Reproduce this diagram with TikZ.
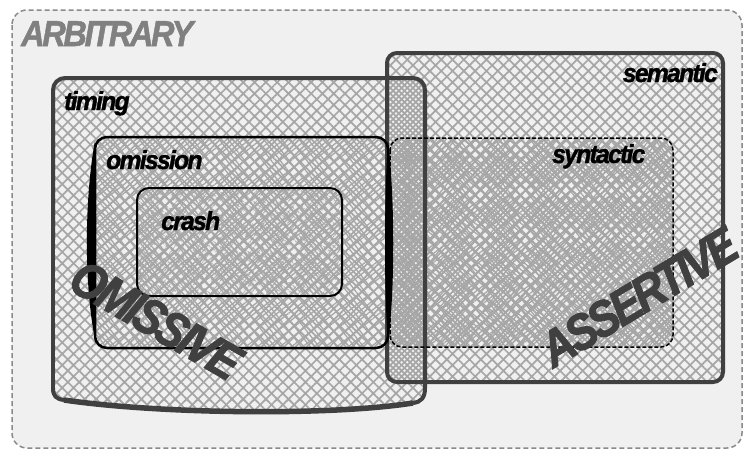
\documentclass[tikz,border=0pt]{standalone}
\usepackage{fontspec}
\setmainfont{Liberation Sans}
\newfontfamily\lblfont{Liberation Sans}[LetterSpace=-7, FakeBold=1.5]
\newfontfamily\bigfont{Liberation Sans}[LetterSpace=-8, FakeBold=2]
\usetikzlibrary{patterns.meta}
\definecolor{bgc}{HTML}{F0F0F0}
\definecolor{patc}{HTML}{A6A6A6}
\definecolor{edgec}{HTML}{404040}
\definecolor{dashc}{HTML}{8A8A8A}
\definecolor{arbc}{HTML}{808080}
\tikzset{
  hatchA/.style={pattern={Hatch[angle=45,distance=8pt,line width=1.7pt]},pattern color=patc},
  hatchS/.style={pattern={Hatch[angle=45,distance=8pt,line width=1.7pt,xshift=5.66pt]},pattern color=patc},
  hatchB/.style={pattern={Hatch[angle=38,distance=7pt,line width=1.3pt]},pattern color=patc},
  hatchC/.style={pattern={Hatch[angle=53,distance=6.5pt,line width=1.2pt]},pattern color=patc},
  hatchD/.style={pattern={Hatch[angle=51,distance=7.2pt,line width=1.3pt]},pattern color=patc},
  setlabel/.style={font=\lblfont\bfseries\itshape\fontsize{26}{26}\selectfont, inner sep=0pt, text=black},
  bigword/.style={font=\bigfont\bfseries\itshape\fontsize{50}{50}\selectfont, inner sep=0pt, text=edgec},
  thickset/.style={draw=edgec, line width=4pt},
  innerset/.style={draw=black, line width=2.5pt, rounded corners=12pt},
  dashset/.style={draw=black, line width=1.5pt, dash pattern=on 4pt off 2pt, rounded corners=12pt},
}
\newcommand{\sq}[1]{\scalebox{0.95}[1]{#1}}
\newcommand{\sqb}[1]{\scalebox{0.88}[1]{#1}}
\begin{document}
\begin{tikzpicture}[x=1pt,y=-1pt]
\useasboundingbox (0,0) rectangle (745,450);
% outer arbitrary
\draw[dashc, line width=1.5pt, dash pattern=on 5pt off 3pt, fill=bgc, rounded corners=15pt] (12,10) rectangle (742,448);
% pattern fills
\path[hatchA, rounded corners=12pt] (53,78) rectangle (425,402);
\path[hatchA] (60,398) .. controls (150,414) and (330,416) .. (418,400) -- cycle;
\path[hatchS, rounded corners=10pt] (387,53) rectangle (723,382);
\path[hatchB, rounded corners=12pt] (92,137) rectangle (390,348);
\path[hatchC, rounded corners=12pt] (137,188) rectangle (342,296);
\path[hatchB, rounded corners=12pt] (390,138) rectangle (673,347);
\path[hatchD, rounded corners=12pt] (390,138) rectangle (673,347);
% borders
\draw[thickset, rounded corners=12pt] (53,240) -- (53,78) -- (425,78) -- (425,388);
\draw[thickset] (425,388) .. controls (425,398) and (421,402) .. (413,403);
\draw[thickset] (53,388) .. controls (53,396) and (56,399) .. (64,400);
\draw[edgec, line width=5.5pt] (64,400) .. controls (160,414) and (330,416) .. (413,403);
\draw[thickset] (53,240) -- (53,388);
\draw[thickset, rounded corners=10pt] (387,53) rectangle (723,382);
\draw[innerset] (95,137) rectangle (388,348);
\fill[black] (95,141) .. controls (84,200) and (84,290) .. (96,344) .. controls (95,290) and (95,200) .. (95,141) -- cycle;
\fill[black] (388,141) .. controls (395,200) and (395,290) .. (388,344) .. controls (384,290) and (384,200) .. (388,141) -- cycle;
\draw[draw=black, line width=2pt, rounded corners=12pt] (137,188) rectangle (342,296);
\draw[dashset] (390,138) rectangle (673,347);
% labels
\node[font=\lblfont\bfseries\itshape\fontsize{36}{36}\selectfont, text=arbc, inner sep=0pt, anchor=base west] (arb) at (21,46) {\scalebox{0.9}[1]{ARBITRARY}};
\node[setlabel, anchor=base west] (timing) at (64,110) {\sq{timing}};
\node[setlabel, anchor=base west] (omission) at (106,169) {\sq{omission}};
\node[setlabel, anchor=base west] (crash) at (161,230) {\sq{crash}};
\node[setlabel, anchor=base east] (semantic) at (718,82) {\sq{semantic}};
\node[setlabel, anchor=base west] (syntactic) at (552,163) {\sq{syntactic}};
\node[bigword, rotate=-30] (omissive) at (156,320) {\sqb{OMISSIVE}};
\node[bigword, rotate=31] (assertive) at (639,297) {\sqb{ASSERTIVE}};
\end{tikzpicture}
\end{document}
